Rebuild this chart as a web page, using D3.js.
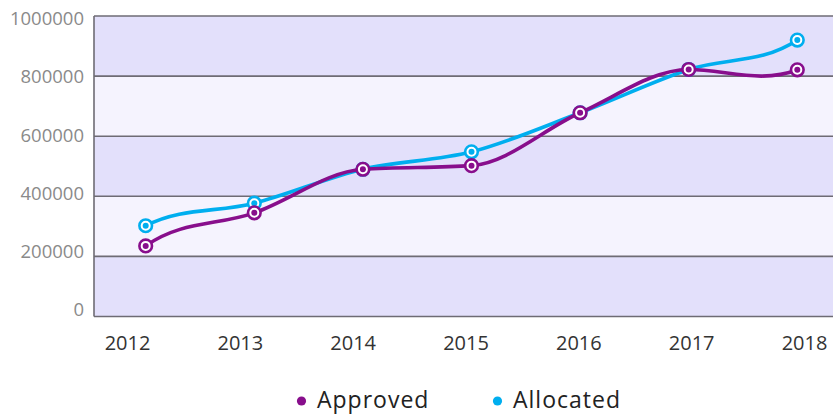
<!DOCTYPE html>
<html>
<head>
<meta charset="utf-8">
<script src="https://cdn.jsdelivr.net/npm/d3@7"></script>
<style>
  html, body { margin: 0; padding: 0; background: #ffffff; overflow: hidden; }
  svg { display: block; font-family: "Open Sans", "Noto Sans", sans-serif; }
</style>
</head>
<body>
<svg id="chart" width="833" height="415"></svg>
<script>
// Yearly budget figures
const years = ["2012", "2013", "2014", "2015", "2016", "2017", "2018"];
const approved = [235000, 345000, 490000, 502000, 678000, 822000, 821000];
const allocated = [302000, 377000, 490000, 548000, 678000, 822000, 920000];
const yTicks = [0, 200000, 400000, 600000, 800000, 1000000];
const seriesNames = ["Approved", "Allocated"];
const seriesColors = ["#880e8c", "#00aeef"];

const svg = d3.select("#chart");

const plot = { left: 94, top: 16, bottom: 316.5, right: 849 };

const x = d3.scalePoint().domain(years).range([plot.left, plot.right]).padding(0.476);
const y = d3.scaleLinear().domain([0, 1000000]).range([plot.bottom, plot.top]);

// category labels sit on their own slightly wider spacing
const xLabel = d3.scalePoint().domain(years).range([127, 804]);
const yLabel = d3.scaleLinear().domain([0, 1000000]).range([310, 18.5]);

// Smooth curve: Hermite segments, Fritsch–Carlson tangents inside,
// end tangents carried over the last two intervals.
function curveSpline(context) {
  let pts = [];
  return {
    areaStart() {}, areaEnd() {},
    lineStart() { pts = []; },
    point(px, py) { pts.push([+px, +py]); },
    lineEnd() {
      const n = pts.length;
      if (!n) return;
      context.moveTo(pts[0][0], pts[0][1]);
      if (n < 3) { for (let i = 1; i < n; i++) context.lineTo(pts[i][0], pts[i][1]); return; }
      const h = [], s = [];
      for (let i = 0; i < n - 1; i++) {
        h.push(pts[i + 1][0] - pts[i][0]);
        s.push((pts[i + 1][1] - pts[i][1]) / h[i]);
      }
      const m = new Array(n);
      for (let i = 1; i < n - 1; i++) {
        const s0 = s[i - 1], s1 = s[i], h0 = h[i - 1], h1 = h[i];
        const p = (s0 * h1 + s1 * h0) / (h0 + h1);
        m[i] = (Math.sign(s0) + Math.sign(s1)) * Math.min(Math.abs(s0), Math.abs(s1), 0.5 * Math.abs(p)) || 0;
      }
      m[0] = s[0] + s[1];
      m[n - 1] = s[n - 2] + s[n - 3];
      for (let i = 0; i < n - 1; i++) {
        const dx = h[i] / 3;
        context.bezierCurveTo(
          pts[i][0] + dx, pts[i][1] + m[i] * dx,
          pts[i + 1][0] - dx, pts[i + 1][1] - m[i + 1] * dx,
          pts[i + 1][0], pts[i + 1][1]);
      }
    }
  };
}

// alternating horizontal bands
const bands = d3.pairs(yTicks);
svg.append("g").selectAll("rect").data(bands).join("rect")
  .attr("x", plot.left)
  .attr("width", plot.right - plot.left)
  .attr("y", d => y(d[1]))
  .attr("height", d => y(d[0]) - y(d[1]))
  .attr("fill", (d, i) => i % 2 === 0 ? "#e3e0fb" : "#f5f3fe");

// grid lines
svg.append("g").selectAll("line").data(yTicks).join("line")
  .attr("x1", plot.left).attr("x2", plot.right)
  .attr("y1", d => y(d)).attr("y2", d => y(d))
  .attr("stroke", "#6e6b74").attr("stroke-width", 1.6);

// left axis line
svg.append("line")
  .attr("x1", plot.left).attr("x2", plot.left)
  .attr("y1", plot.top).attr("y2", plot.bottom)
  .attr("stroke", "#6e6b74").attr("stroke-width", 1.6);

// y labels
const yAxis = svg.append("g")
  .attr("transform", `translate(${plot.left - 10},0)`)
  .call(d3.axisLeft(yLabel).tickValues(yTicks).tickSize(0).tickPadding(0).tickFormat(d3.format("d")));
yAxis.select(".domain").remove();
yAxis.selectAll("text")
  .attr("fill", "#8a8a8a")
  .style("font-size", "18.5px")
  .style("font-family", "'Open Sans', sans-serif");

// x labels
const xAxis = svg.append("g")
  .attr("transform", `translate(0,${plot.bottom + 14})`)
  .call(d3.axisBottom(xLabel).tickSize(0).tickPadding(0));
xAxis.select(".domain").remove();
xAxis.selectAll("text")
  .attr("fill", "#333333")
  .attr("dy", "0.95em")
  .style("font-size", "20px")
  .style("font-family", "'Open Sans', sans-serif");

// lines
const line = d3.line()
  .x((d, i) => x(years[i]))
  .y(d => y(d))
  .curve(curveSpline);

const series = [
  { name: seriesNames[1], values: allocated, color: seriesColors[1] },
  { name: seriesNames[0], values: approved, color: seriesColors[0] }
];

series.forEach(s => {
  const g = svg.append("g");
  g.append("path")
    .attr("d", line(s.values))
    .attr("fill", "none")
    .attr("stroke", s.color)
    .attr("stroke-width", 3.6)
    .attr("stroke-linejoin", "round");
  const pts = g.selectAll("g.pt").data(s.values).join("g")
    .attr("class", "pt")
    .attr("transform", (d, i) => `translate(${x(years[i])},${y(d)})`);
  pts.append("circle").attr("r", 6.3).attr("fill", "#ffffff")
    .attr("stroke", s.color).attr("stroke-width", 2.6);
  pts.append("circle").attr("r", 3).attr("fill", s.color);
});

// legend
const legendItems = [
  { name: seriesNames[0], color: seriesColors[0], cx: 301.5, tx: 317 },
  { name: seriesNames[1], color: seriesColors[1], cx: 497.5, tx: 513 }
];
const lg = svg.append("g");
legendItems.forEach(it => {
  lg.append("circle").attr("cx", it.cx).attr("cy", 401).attr("r", 4.6).attr("fill", it.color);
  lg.append("text").attr("x", it.tx).attr("y", 408)
    .attr("fill", "#222222")
    .style("font-size", "23px")
    .style("letter-spacing", "1px")
    .text(it.name);
});
</script>
</body>
</html>
